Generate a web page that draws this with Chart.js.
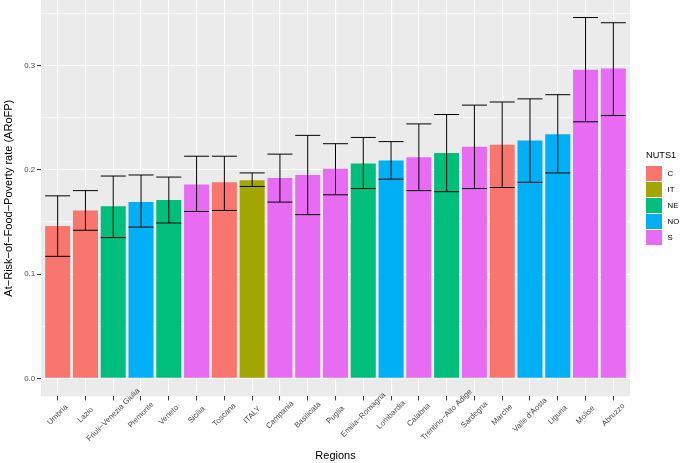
<!DOCTYPE html>
<html>
<head>
<meta charset="utf-8">
<script src="https://cdn.jsdelivr.net/npm/chart.js@4.4.1/dist/chart.umd.min.js"></script>
<style>
  html, body { margin: 0; padding: 0; background: #fff; }
  #wrap { position: relative; width: 685px; height: 463px; }
  #legend { position: absolute; left: 0; top: 0; font-family: "Liberation Sans", Arial, sans-serif; }
  .lg-title { position: absolute; left: 646px; top: 149.3px; font-size: 9.2px; line-height: 12px; color: #000; white-space: nowrap; }
  .lg-key { position: absolute; left: 646px; width: 16px; height: 15px; }
  .lg-label { position: absolute; left: 667.5px; font-size: 7.8px; line-height: 10px; color: #000; }
</style>
</head>
<body>
<div id="wrap">
  <canvas id="arofpChart" width="685" height="463"></canvas>
  <div id="legend"></div>
</div>
<script>
// regions, sorted by rate
const regions = ["Umbria", "Lazio", "Friuli\u2212Venezia Giulia", "Piemonte", "Veneto", "Sicilia", "Toscana",
  "ITALY", "Campania", "Basilicata", "Puglia", "Emilia\u2212Romagna", "Lombardia", "Calabria",
  "Trentino\u2212Alto Adige", "Sardegna", "Marche", "Valle d'Aosta", "Liguria", "Molise", "Abruzzo"];
const nuts1 = ["C", "C", "NE", "NO", "NE", "S", "C", "IT", "S", "S", "S", "NE", "NO", "S", "NE", "S", "C", "NO", "NO", "S", "S"];
const arofp = [0.146, 0.161, 0.165, 0.169, 0.171, 0.186, 0.188, 0.190, 0.192, 0.195, 0.201, 0.206, 0.209, 0.212,
  0.216, 0.222, 0.224, 0.228, 0.234, 0.296, 0.297];
const ciLow = [0.117, 0.142, 0.135, 0.145, 0.149, 0.160, 0.161, 0.184, 0.169, 0.157, 0.176, 0.182, 0.191, 0.180,
  0.179, 0.182, 0.183, 0.188, 0.197, 0.246, 0.252];
const ciHigh = [0.175, 0.180, 0.194, 0.195, 0.193, 0.213, 0.213, 0.197, 0.215, 0.233, 0.225, 0.231, 0.227, 0.244,
  0.253, 0.262, 0.265, 0.268, 0.272, 0.346, 0.341];

const groupNames = ["C", "IT", "NE", "NO", "S"];
const groupColors = ["#F8766D", "#A3A500", "#00BF7D", "#00B0F6", "#E76BF3"];
const yTicks = [0, 0.05, 0.1, 0.15, 0.2, 0.25, 0.3, 0.35];

const FONT = "'Liberation Sans', Arial, sans-serif";
const isMajor = v => Math.round(v * 100) % 10 === 0;

// grey panel behind everything
const panelBg = {
  id: 'panelBg',
  beforeDraw(chart) {
    const { ctx, chartArea: a } = chart;
    ctx.save();
    ctx.fillStyle = '#EBEBEB';
    ctx.fillRect(a.left, a.top, a.right - a.left, a.bottom - a.top);
    ctx.restore();
  }
};

// confidence interval whiskers
const errorBars = {
  id: 'errorBars',
  afterDatasetsDraw(chart) {
    const { ctx, scales: { x, y } } = chart;
    ctx.save();
    ctx.strokeStyle = '#000';
    ctx.lineWidth = 1;
    ciLow.forEach((lo, i) => {
      const xc = x.getPixelForValue(i);
      const xl = x.getPixelForValue(i - 0.45);
      const xr = x.getPixelForValue(i + 0.45);
      const yl = y.getPixelForValue(lo);
      const yh = y.getPixelForValue(ciHigh[i]);
      ctx.beginPath();
      ctx.moveTo(xc, yl); ctx.lineTo(xc, yh);
      ctx.moveTo(xl, yh); ctx.lineTo(xr, yh);
      ctx.moveTo(xl, yl); ctx.lineTo(xr, yl);
      ctx.stroke();
    });
    ctx.restore();
  }
};

// x labels rotated 45 deg around their centre, like ggplot's angle = 45
const regionLabels = {
  id: 'regionLabels',
  afterDraw(chart) {
    const { ctx, scales: { x } } = chart;
    ctx.save();
    ctx.fillStyle = '#4D4D4D';
    ctx.font = '7.8px ' + FONT;
    ctx.textAlign = 'center';
    ctx.textBaseline = 'middle';
    regions.forEach((r, i) => {
      ctx.save();
      ctx.translate(x.getPixelForValue(i), x.top + 18.5);
      ctx.rotate(-Math.PI / 4);
      ctx.fillText(r, 0, 0);
      ctx.restore();
    });
    ctx.restore();
  }
};

new Chart(document.getElementById('arofpChart'), {
  type: 'bar',
  data: {
    datasets: [{
      data: arofp.map((v, i) => ({ x: i, y: v })),
      backgroundColor: nuts1.map(g => groupColors[groupNames.indexOf(g)]),
      borderWidth: 0,
      barPercentage: 0.9,
      categoryPercentage: 1.0
    }]
  },
  options: {
    responsive: false,
    animation: false,
    layout: { padding: { left: 0, right: 55, top: 0, bottom: 0 } },
    plugins: { legend: { display: false }, tooltip: { enabled: false } },
    scales: {
      x: {
        type: 'linear',
        offset: false,
        min: -0.6,
        max: 20.6,
        afterBuildTicks: s => { s.ticks = regions.map((_, i) => ({ value: i })); },
        afterFit: s => { s.height = 66.6; s.paddingLeft = 0; s.paddingRight = 0; },
        grid: { offset: false, color: '#FFFFFF', lineWidth: 1.1, tickColor: '#333333', tickLength: 4, tickWidth: 1 },
        border: { display: false },
        ticks: { display: false },
        title: { display: true, text: 'Regions', color: '#000', font: { family: FONT, size: 11 }, padding: { top: 0, bottom: 0.5 } }
      },
      y: {
        min: -0.0173,
        max: 0.3628,
        afterBuildTicks: s => { s.ticks = yTicks.map(v => ({ value: v })); },
        afterFit: s => { s.width = 41; s.paddingTop = 0; s.paddingBottom = 0; },
        grid: {
          color: '#FFFFFF',
          lineWidth: c => isMajor(c.tick.value) ? 1.1 : 0.55,
          tickColor: c => isMajor(c.tick.value) ? '#333333' : 'rgba(0,0,0,0)',
          tickLength: 4,
          tickWidth: 1
        },
        border: { display: false },
        ticks: {
          padding: 2,
          callback: v => isMajor(v) ? v.toFixed(1) : '',
          color: '#4D4D4D', font: { family: FONT, size: 7.8 }
        },
        title: { display: true, text: 'At\u2212Risk\u2212of\u2212Food\u2212Poverty rate (ARoFP)', color: '#000', font: { family: FONT, size: 11 }, padding: { top: 2.5, bottom: 0 } }
      }
    }
  },
  plugins: [panelBg, errorBars, regionLabels]
});

// legend (NUTS1 groups)
const legend = document.getElementById('legend');
legend.innerHTML = '<div class="lg-title">NUTS1</div>' + groupNames.map((g, k) => {
  const top = 165.5 + 16.1 * k;
  return `<div class="lg-key" style="top:${top}px;background:${groupColors[k]}"></div>` +
    `<div class="lg-label" style="top:${top + 3}px">${g}</div>`;
}).join('');
</script>
</body>
</html>
